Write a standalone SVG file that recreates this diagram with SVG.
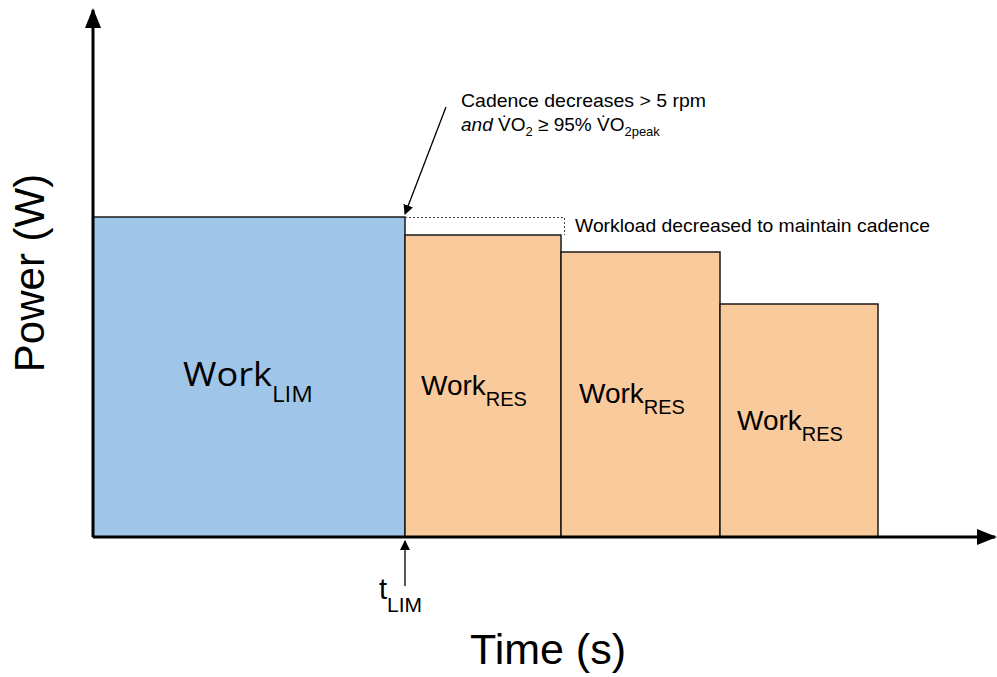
<svg xmlns="http://www.w3.org/2000/svg" width="997" height="677" viewBox="0 0 997 677">
<style>
.t{font-family:"Liberation Sans",Arial,sans-serif;fill:#000}
.blk{stroke:#1a1a1a;stroke-width:1.5}
.lim{fill:#9fc5e8}
.res{fill:#f9cb9c}
.ax{stroke:#000;stroke-width:3;fill:none}
</style>
<defs>
<marker id="ah" markerWidth="10" markerHeight="10" refX="9" refY="5" orient="auto" markerUnits="userSpaceOnUse"><path d="M0,0 L10,5 L0,10 z" fill="#000"/></marker>
<marker id="big" markerWidth="20" markerHeight="16" refX="18" refY="8" orient="auto" markerUnits="userSpaceOnUse"><path d="M0,0 L20,8 L0,16 z" fill="#000"/></marker>
</defs>
<g id="work-lim">
<rect class="lim blk" x="93" y="217" width="312" height="320"/>
<text class="t" x="183" y="386" font-size="32" style="font-family:'Open Sans','Liberation Sans',sans-serif"><tspan textLength="89" lengthAdjust="spacingAndGlyphs">Work</tspan><tspan font-size="22" dy="16" textLength="41" lengthAdjust="spacingAndGlyphs">LIM</tspan></text>
</g>
<g id="work-res-1">
<rect class="res blk" x="405" y="235" width="156" height="302"/>
<text class="t" x="421" y="395" font-size="28">Work<tspan font-size="20" dy="11">RES</tspan></text>
</g>
<g id="work-res-2">
<rect class="res blk" x="561" y="252" width="159" height="285"/>
<text class="t" x="579" y="403" font-size="28">Work<tspan font-size="20" dy="11">RES</tspan></text>
</g>
<g id="work-res-3">
<rect class="res blk" x="720" y="304" width="158" height="233"/>
<text class="t" x="737" y="430" font-size="28">Work<tspan font-size="20" dy="11">RES</tspan></text>
</g>
<g id="connectors">
<line class="ax" x1="93" y1="537" x2="93" y2="10" marker-end="url(#big)"/>
<line class="ax" x1="93" y1="537" x2="995" y2="537" marker-end="url(#big)"/>
<path d="M405,217.5 H564.5 V235" fill="none" stroke="#444" stroke-width="1" stroke-dasharray="2,2"/>
<line x1="446" y1="107" x2="405" y2="214" stroke="#000" stroke-width="1.3" marker-end="url(#ah)"/>
<line x1="405" y1="586" x2="405" y2="541" stroke="#000" stroke-width="1.3" marker-end="url(#ah)"/>
</g>
<g id="labels">
<text class="t" x="461" y="107" font-size="19" textLength="245" lengthAdjust="spacingAndGlyphs">Cadence decreases &gt; 5 rpm</text>
<text class="t" x="461" y="131" font-size="19"><tspan font-style="italic">and</tspan> V̇O<tspan font-size="13" dy="5">2</tspan><tspan dy="-5"> ≥ 95% V̇O</tspan><tspan font-size="13" dy="5">2peak</tspan></text>
<text class="t" x="575" y="232" font-size="19" textLength="355" lengthAdjust="spacingAndGlyphs">Workload decreased to maintain cadence</text>
<text class="t" x="379" y="599" font-size="29">t<tspan font-size="21" dy="13">LIM</tspan></text>
<text class="t" x="548" y="664" font-size="43" text-anchor="middle">Time (s)</text>
<text class="t" x="0" y="0" font-size="42" text-anchor="middle" transform="translate(44,273) rotate(-90)">Power (W)</text>
</g>
</svg>
